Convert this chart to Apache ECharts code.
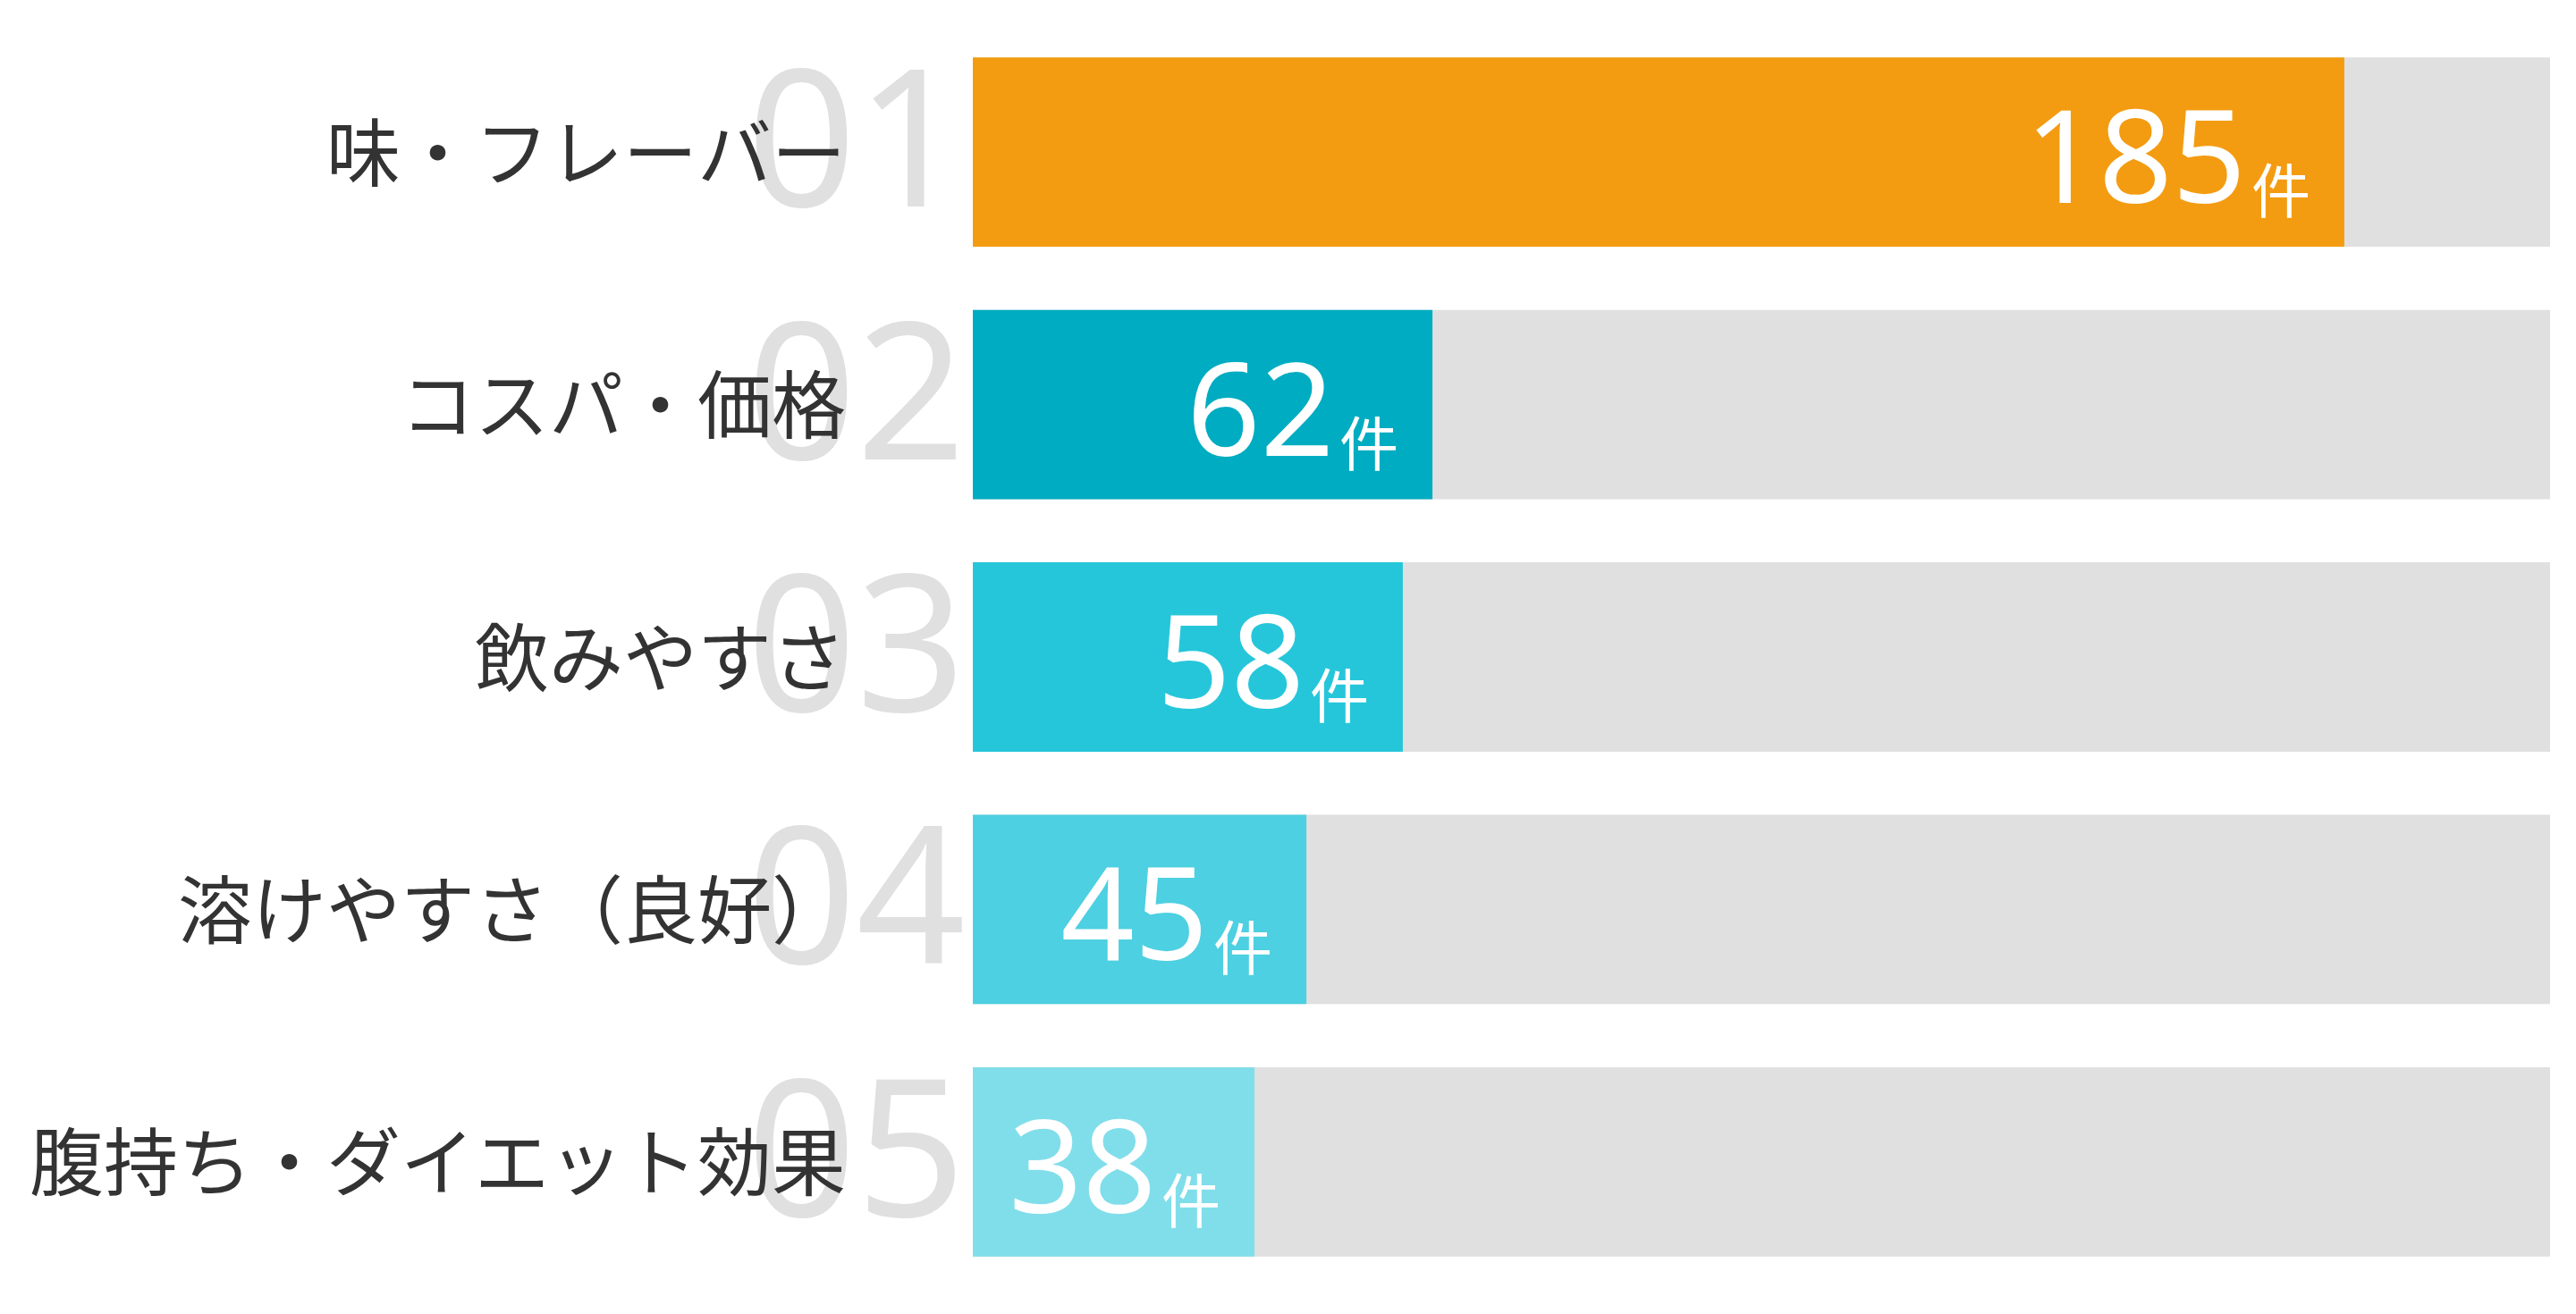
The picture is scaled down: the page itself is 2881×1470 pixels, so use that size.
<!DOCTYPE html>
<html>
<head>
<meta charset="utf-8">
<script src="https://cdn.jsdelivr.net/npm/echarts@6/dist/echarts.min.js"></script>
<style>
  html, body { margin: 0; padding: 0; background: #fff; }
  #chart { width: 2881px; height: 1470px; }
</style>
</head>
<body>
<div id="chart"></div>
<script>
// 項目・順位・件数
const categories = ['味・フレーバー', 'コスパ・価格', '飲みやすさ', '溶けやすさ（良好）', '腹持ち・ダイエット効果']
const ranks = ['01', '02', '03', '04', '05']
const counts = [185, 62, 58, 45, 38]
const unit = '件'

const barColors = ['#f39c12', '#00acc1', '#26c6da', '#4dd0e1', '#80deea']

function generateChart () {
  var chartDom = document.getElementById('chart')
  var myChart = echarts.init(chartDom)
  var option

  option = {
    animation: false,
    grid: {
      left: 1088,
      right: 29,
      top: 29,
      bottom: 29
    },
    xAxis: {
      type: 'value',
      min: 0,
      max: 185 * 1.15,
      show: false
    },
    yAxis: [
      {
        // 項目名
        type: 'category',
        data: categories,
        inverse: true,
        z: 3,
        axisLine: { show: false },
        axisTick: { show: false },
        axisLabel: {
          interval: 0,
          margin: 142,
          fontSize: 83,
          color: '#333',
          fontFamily: '"Noto Sans CJK JP", sans-serif',
          padding: [0, 0, 8, 0]
        }
      },
      {
        // 順位の大きな数字
        type: 'category',
        data: ranks,
        inverse: true,
        position: 'left',
        z: 1,
        axisLine: { show: false },
        axisTick: { show: false },
        axisLabel: {
          interval: 0,
          hideOverlap: false,
          margin: 8,
          fontSize: 214,
          color: '#e0e0e0',
          fontFamily: '"Noto Sans", sans-serif',
          padding: [0, 0, 52, 0]
        }
      }
    ],
    series: [
      {
        type: 'bar',
        yAxisIndex: 0,
        barCategoryGap: '25%',
        showBackground: true,
        backgroundStyle: { color: '#e0e0e0' },
        data: counts.map((v, i) => ({ value: v, itemStyle: { color: barColors[i] } })),
        label: {
          show: true,
          position: 'insideRight',
          distance: 38,
          offset: [0, 16],
          formatter: p => '{num|' + p.value + '}{unit|' + unit + '}',
          rich: {
            num: {
              fontSize: 144,
              color: '#fff',
              fontFamily: '"Noto Sans", sans-serif'
            },
            unit: {
              fontSize: 66,
              color: '#fff',
              fontFamily: '"Noto Sans CJK JP", sans-serif',
              verticalAlign: 'bottom',
              padding: [0, 0, 12, 6]
            }
          }
        }
      }
    ]
  }

  option && myChart.setOption(option)
}

generateChart()
</script>
</body>
</html>
